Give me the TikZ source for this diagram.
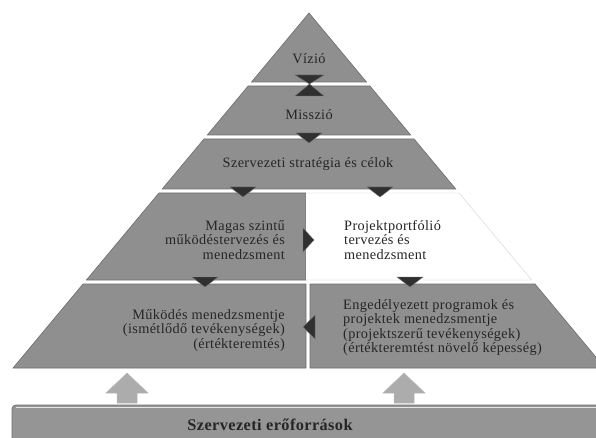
\documentclass[tikz,border=0pt]{standalone}
\usepackage{fontspec}
\setmainfont{Liberation Serif}[LetterSpace=2.5]
\definecolor{bandgray}{RGB}{143,143,143}
\definecolor{bandedge}{RGB}{110,110,110}
\definecolor{markgray}{RGB}{48,48,48}
\definecolor{txtgray}{RGB}{38,38,38}
\tikzset{
	band/.style={fill=bandgray, draw=bandedge, line width=0.6pt},
	whiteband/.style={fill=white, draw=gray!35, line width=0.4pt},
	marker/.style={fill=markgray, draw=black!55, line width=0.4pt},
	lvltext/.style={text=txtgray, font=\fontsize{14.3}{14.5}\selectfont, inner sep=0pt},
	blockarrow/.style={fill=gray!65, draw=gray!55, line width=0.5pt},
	basebar/.style={fill=bandgray!95!white, draw=bandedge, line width=0.8pt, rounded corners=4pt}
}
\begin{document}
\begin{tikzpicture}[x=1pt, y=-1pt]
	\useasboundingbox (0,0) rectangle (596,438);

	% pyramid levels
	\draw[band] (309,13) -- (366.5,82) -- (251.5,82) -- cycle;
	\draw[band] (248.1,86) -- (369.9,86) -- (410.7,135) -- (207.3,135) -- cycle;
	\draw[band] (203.9,139) -- (414.1,139) -- (455.8,189) -- (162.2,189) -- cycle;
	\draw[band] (158.9,193) -- (306,193) -- (306,280) -- (86.4,280) -- cycle;
	\draw[whiteband] (306,193) -- (459.1,193) -- (531.6,280) -- (306,280);
	\draw[band] (83,284) -- (306,284) -- (306,368) -- (13,368) -- cycle;
	\draw[band] (310,284) -- (535,284) -- (605,368) -- (310,368) -- cycle;

	% markers between the levels
	\draw[marker] (295,75) -- (324,75) -- (309.5,84) -- cycle;
	\draw[marker] (295,96) -- (324,96) -- (309.5,84) -- cycle;
	\draw[marker] (296,133) -- (322,133) -- (309,143) -- cycle;
	\draw[marker] (230,187) -- (256,187) -- (243,197) -- cycle;
	\draw[marker] (367,187) -- (393,187) -- (380,197) -- cycle;
	\draw[marker] (192,277) -- (218,277) -- (205,287) -- cycle;
	\draw[marker] (397,277) -- (423,277) -- (410,287) -- cycle;
	\draw[marker] (303,228) -- (303,252) -- (314,240) -- cycle;
	\draw[marker] (315,315) -- (315,339) -- (303,327) -- cycle;

	% level texts
	\node[lvltext] (vizio) at (309,59) {Vízió};
	\node[lvltext] (misszio) at (309,115) {Misszió};
	\node[lvltext] (strategia) at (308,164) {Szervezeti stratégia és célok};
	\node[lvltext, align=right, anchor=east] (magas) at (285,240)
		{Magas szintű\\működéstervezés és\\menedzsment};
	\node[lvltext, align=left, anchor=west] (portfolio) at (344,240)
		{Projektportfólió\\tervezés és\\menedzsment};
	\node[lvltext, align=right, anchor=east] (mukodes) at (285,330.5)
		{Működés menedzsmentje\\(ismétlődő tevékenységek)\\(értékteremtés)};
	\node[lvltext, align=left, anchor=west] (programok) at (343,327.5)
		{Engedélyezett programok és\\projektek menedzsmentje\\(projektszerű tevékenységek)\\(értékteremtést növelő képesség)};

	% resources bar and arrows
	\draw[blockarrow] (117,403) -- (117,393) -- (106,393) -- (127,373) -- (148,393) -- (137,393) -- (137,403) -- cycle;
	\draw[blockarrow] (394,403) -- (394,393) -- (383,393) -- (404,373) -- (425,393) -- (414,393) -- (414,403) -- cycle;
	\draw[basebar] (12,405) rectangle (640,470);
	\draw[white!80!gray, line width=1pt] (16,407.5) -- (600,407.5);
	\node[lvltext, font=\bfseries\fontsize{16.3}{16.3}\selectfont] (eroforrasok) at (270,425)
		{Szervezeti erőforrások};
\end{tikzpicture}
\end{document}
